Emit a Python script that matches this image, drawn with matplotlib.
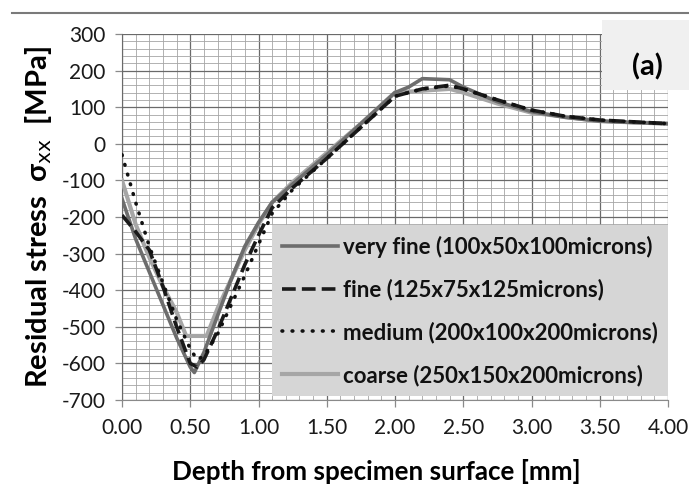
import matplotlib
matplotlib.use("Agg")
import matplotlib.pyplot as plt
from matplotlib.patches import Rectangle
from matplotlib.lines import Line2D
from matplotlib.ticker import MultipleLocator, FormatStrFormatter

plt.rcParams['font.family'] = ['Lato', 'DejaVu Sans']

# ---- data ----
vf_x = [0, 0.1, 0.2, 0.3, 0.4, 0.5, 0.53, 0.6, 0.7, 0.8, 0.9, 1.0, 1.1, 1.25, 1.5, 1.75, 2.0, 2.1, 2.2, 2.4, 2.5, 2.75, 3.0, 3.25, 3.5, 3.75, 4.0]
vf_y = [-150, -260, -350, -440, -530, -610, -625, -570, -470, -370, -280, -215, -160, -110, -30, 55, 140, 155, 178, 175, 155, 115, 88, 72, 62, 58, 55]

fi_x = [0, 0.1, 0.2, 0.3, 0.4, 0.5, 0.55, 0.6, 0.7, 0.8, 0.9, 1.0, 1.1, 1.25, 1.5, 1.75, 2.0, 2.2, 2.4, 2.5, 2.75, 3.0, 3.25, 3.5, 3.75, 4.0]
fi_y = [-195, -240, -290, -390, -500, -600, -610, -590, -510, -420, -330, -250, -175, -120, -40, 45, 130, 150, 160, 150, 120, 92, 75, 65, 60, 55]

me_x = [0, 0.05, 0.1, 0.2, 0.3, 0.4, 0.5, 0.55, 0.6, 0.7, 0.8, 0.9, 1.0, 1.1, 1.25, 1.5, 1.75, 2.0, 2.2, 2.4, 2.5, 2.75, 3.0, 3.25, 3.5, 3.75, 4.0]
me_y = [-30, -95, -160, -280, -380, -480, -560, -590, -580, -520, -440, -360, -275, -190, -125, -40, 45, 130, 150, 158, 150, 120, 92, 75, 65, 60, 55]

co_x = [0, 0.1, 0.2, 0.3, 0.4, 0.47, 0.62, 0.7, 0.8, 0.9, 1.0, 1.1, 1.25, 1.5, 1.75, 2.0, 2.2, 2.4, 2.5, 2.75, 3.0, 3.5, 4.0]
co_y = [-100, -220, -310, -390, -460, -525, -525, -450, -370, -290, -220, -160, -105, -25, 55, 140, 145, 150, 140, 110, 85, 62, 55]

labels = ["very fine (100x50x100microns)", "fine (125x75x125microns)",
          "medium (200x100x200microns)", "coarse (250x150x200microns)"]

fig = plt.figure(figsize=(6.89, 4.92), dpi=100)
ax = fig.add_axes([122/689, 1-400/492, 546/689, 366/492])

ax.plot(vf_x, vf_y, color='#6d6d6d', lw=2.6, label=labels[0], zorder=4)
ax.plot(fi_x, fi_y, color='#1a1a1a', lw=2.6, ls=(0, (3.8, 1.7)), label=labels[1], zorder=5)
ax.plot(me_x, me_y, color='#111111', lw=2.6, ls=(0, (0.2, 2.6)), dash_capstyle='round', label=labels[2], zorder=6)
ax.plot(co_x, co_y, color='#a6a6a6', lw=3.0, label=labels[3], zorder=3)

ax.set_xlim(0, 4)
ax.set_ylim(-700, 300)
ax.xaxis.set_major_locator(MultipleLocator(0.5))
ax.xaxis.set_minor_locator(MultipleLocator(0.1))
ax.yaxis.set_major_locator(MultipleLocator(100))
ax.yaxis.set_minor_locator(MultipleLocator(20))
ax.xaxis.set_major_formatter(FormatStrFormatter('%.2f'))
ax.yaxis.set_major_formatter(FormatStrFormatter('%d'))

ax.grid(which='major', color='#6a6a6a', lw=0.9)
ax.grid(which='minor', color='#a5a5a5', lw=0.6)
ax.set_axisbelow(True)
for s in ['top', 'right']:
    ax.spines[s].set_visible(False)
ax.spines['left'].set_color('#6a6a6a')
ax.spines['bottom'].set_color('#8a8a8a')
ax.tick_params(which='minor', length=0)
ax.tick_params(which='major', length=5, width=0.9, color='#8a8a8a', labelsize=15, labelcolor='#1a1a1a')
ax.tick_params(axis='y', pad=7)
ax.tick_params(axis='x', pad=8)

ax.set_xlabel("Depth from specimen surface [mm]", fontsize=18.7, fontweight='bold')
ax.xaxis.set_label_coords((376-122)/546, -0.16)
ax.set_ylabel(r"Residual stress  σ$_{\mathrm{xx}}$  [MPa]", fontsize=21, fontweight='bold', labelpad=5)

leg = ax.legend(loc='lower right', bbox_to_anchor=(1.0, 0.011), borderaxespad=0,
                frameon=True, fancybox=False, framealpha=1, facecolor='#d6d6d6', edgecolor='none',
                prop={'weight': 'bold', 'size': 16}, handlelength=2.5, handletextpad=0.25,
                labelspacing=0.95, borderpad=0.45)
leg.set_zorder(10)
for t in leg.get_texts():
    t.set_color('#111111')

# "(a)" box in the top right corner
fig.add_artist(Rectangle((602/689, 1-90/492), 87/689, 70/492, transform=fig.transFigure,
                         facecolor='#f0f0f0', edgecolor='none', zorder=5))
fig.text(647/689, 1-67/492, "(a)", fontsize=21, fontweight='bold', ha='center', va='center', zorder=6)

# top separator line
fig.add_artist(Line2D([12/689, 1], [1-13/492, 1-13/492], transform=fig.transFigure,
                      color='#7a7a7a', lw=1.5, zorder=6))

fig.savefig("out.png", dpi=100)
